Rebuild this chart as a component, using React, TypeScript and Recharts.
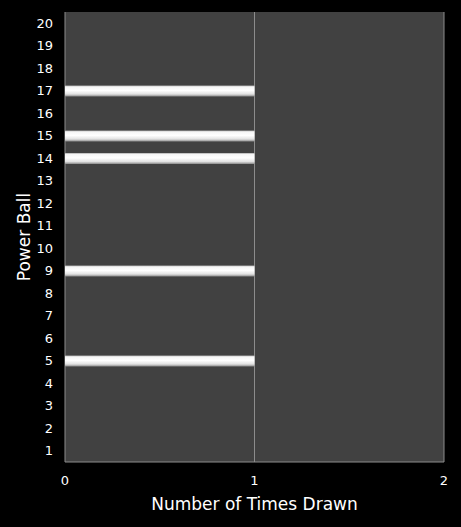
import React from "react";
import { Bar, BarChart, CartesianGrid, XAxis, YAxis, Label } from "recharts";

const balls = ["1", "2", "3", "4", "5", "6", "7", "8", "9", "10", "11", "12", "13", "14", "15", "16", "17", "18", "19", "20"];
const timesDrawn = [0, 0, 0, 0, 1, 0, 0, 0, 1, 0, 0, 0, 0, 1, 1, 0, 1, 0, 0, 0];
const xTicks = [0, 1, 2];

const data = balls.map((ball, i) => ({ ball, drawn: timesDrawn[i] }));

const FONT = "'DejaVu Sans', Verdana, sans-serif";

export default function App() {
  return (
    <div style={{ position: "absolute", left: 0, top: 0, width: 461, height: 527, background: "#000" }}>
      <BarChart
        width={461}
        height={527}
        data={data}
        layout="vertical"
        margin={{ top: 12, right: 17, left: 0, bottom: 0 }}
        barSize={11}
      >
        <defs>
          <linearGradient id="barShine" x1="0" y1="0" x2="0" y2="1">
            <stop offset="0%" stopColor="#a8a8a8" />
            <stop offset="12%" stopColor="#f6f6f6" />
            <stop offset="45%" stopColor="#ffffff" />
            <stop offset="78%" stopColor="#e2e2e2" />
            <stop offset="100%" stopColor="#8a8a8a" />
          </linearGradient>
        </defs>
        <CartesianGrid horizontal={false} stroke="#8c8c8c" fill="#414141" />
        <XAxis
          type="number"
          domain={[0, 2]}
          ticks={xTicks}
          height={65}
          axisLine={{ stroke: "#8c8c8c" }}
          tickLine={false}
          tick={{ fill: "#ffffff", fontSize: 13, fontFamily: FONT }}
          tickMargin={8}
        >
          <Label
            value="Number of Times Drawn"
            position="insideBottom"
            offset={17}
            style={{ fill: "#ffffff", fontSize: 17, fontFamily: FONT }}
          />
        </XAxis>
        <YAxis
          type="category"
          dataKey="ball"
          reversed
          width={65}
          axisLine={false}
          tickLine={false}
          interval={0}
          tick={{ fill: "#ffffff", fontSize: 13, fontFamily: FONT }}
          tickMargin={6}
        >
          <Label
            value="Power Ball"
            angle={-90}
            position="insideLeft"
            offset={24}
            style={{ fill: "#ffffff", fontSize: 17, fontFamily: FONT, textAnchor: "middle" }}
          />
        </YAxis>
        <Bar dataKey="drawn" fill="url(#barShine)" isAnimationActive={false} />
      </BarChart>
    </div>
  );
}
